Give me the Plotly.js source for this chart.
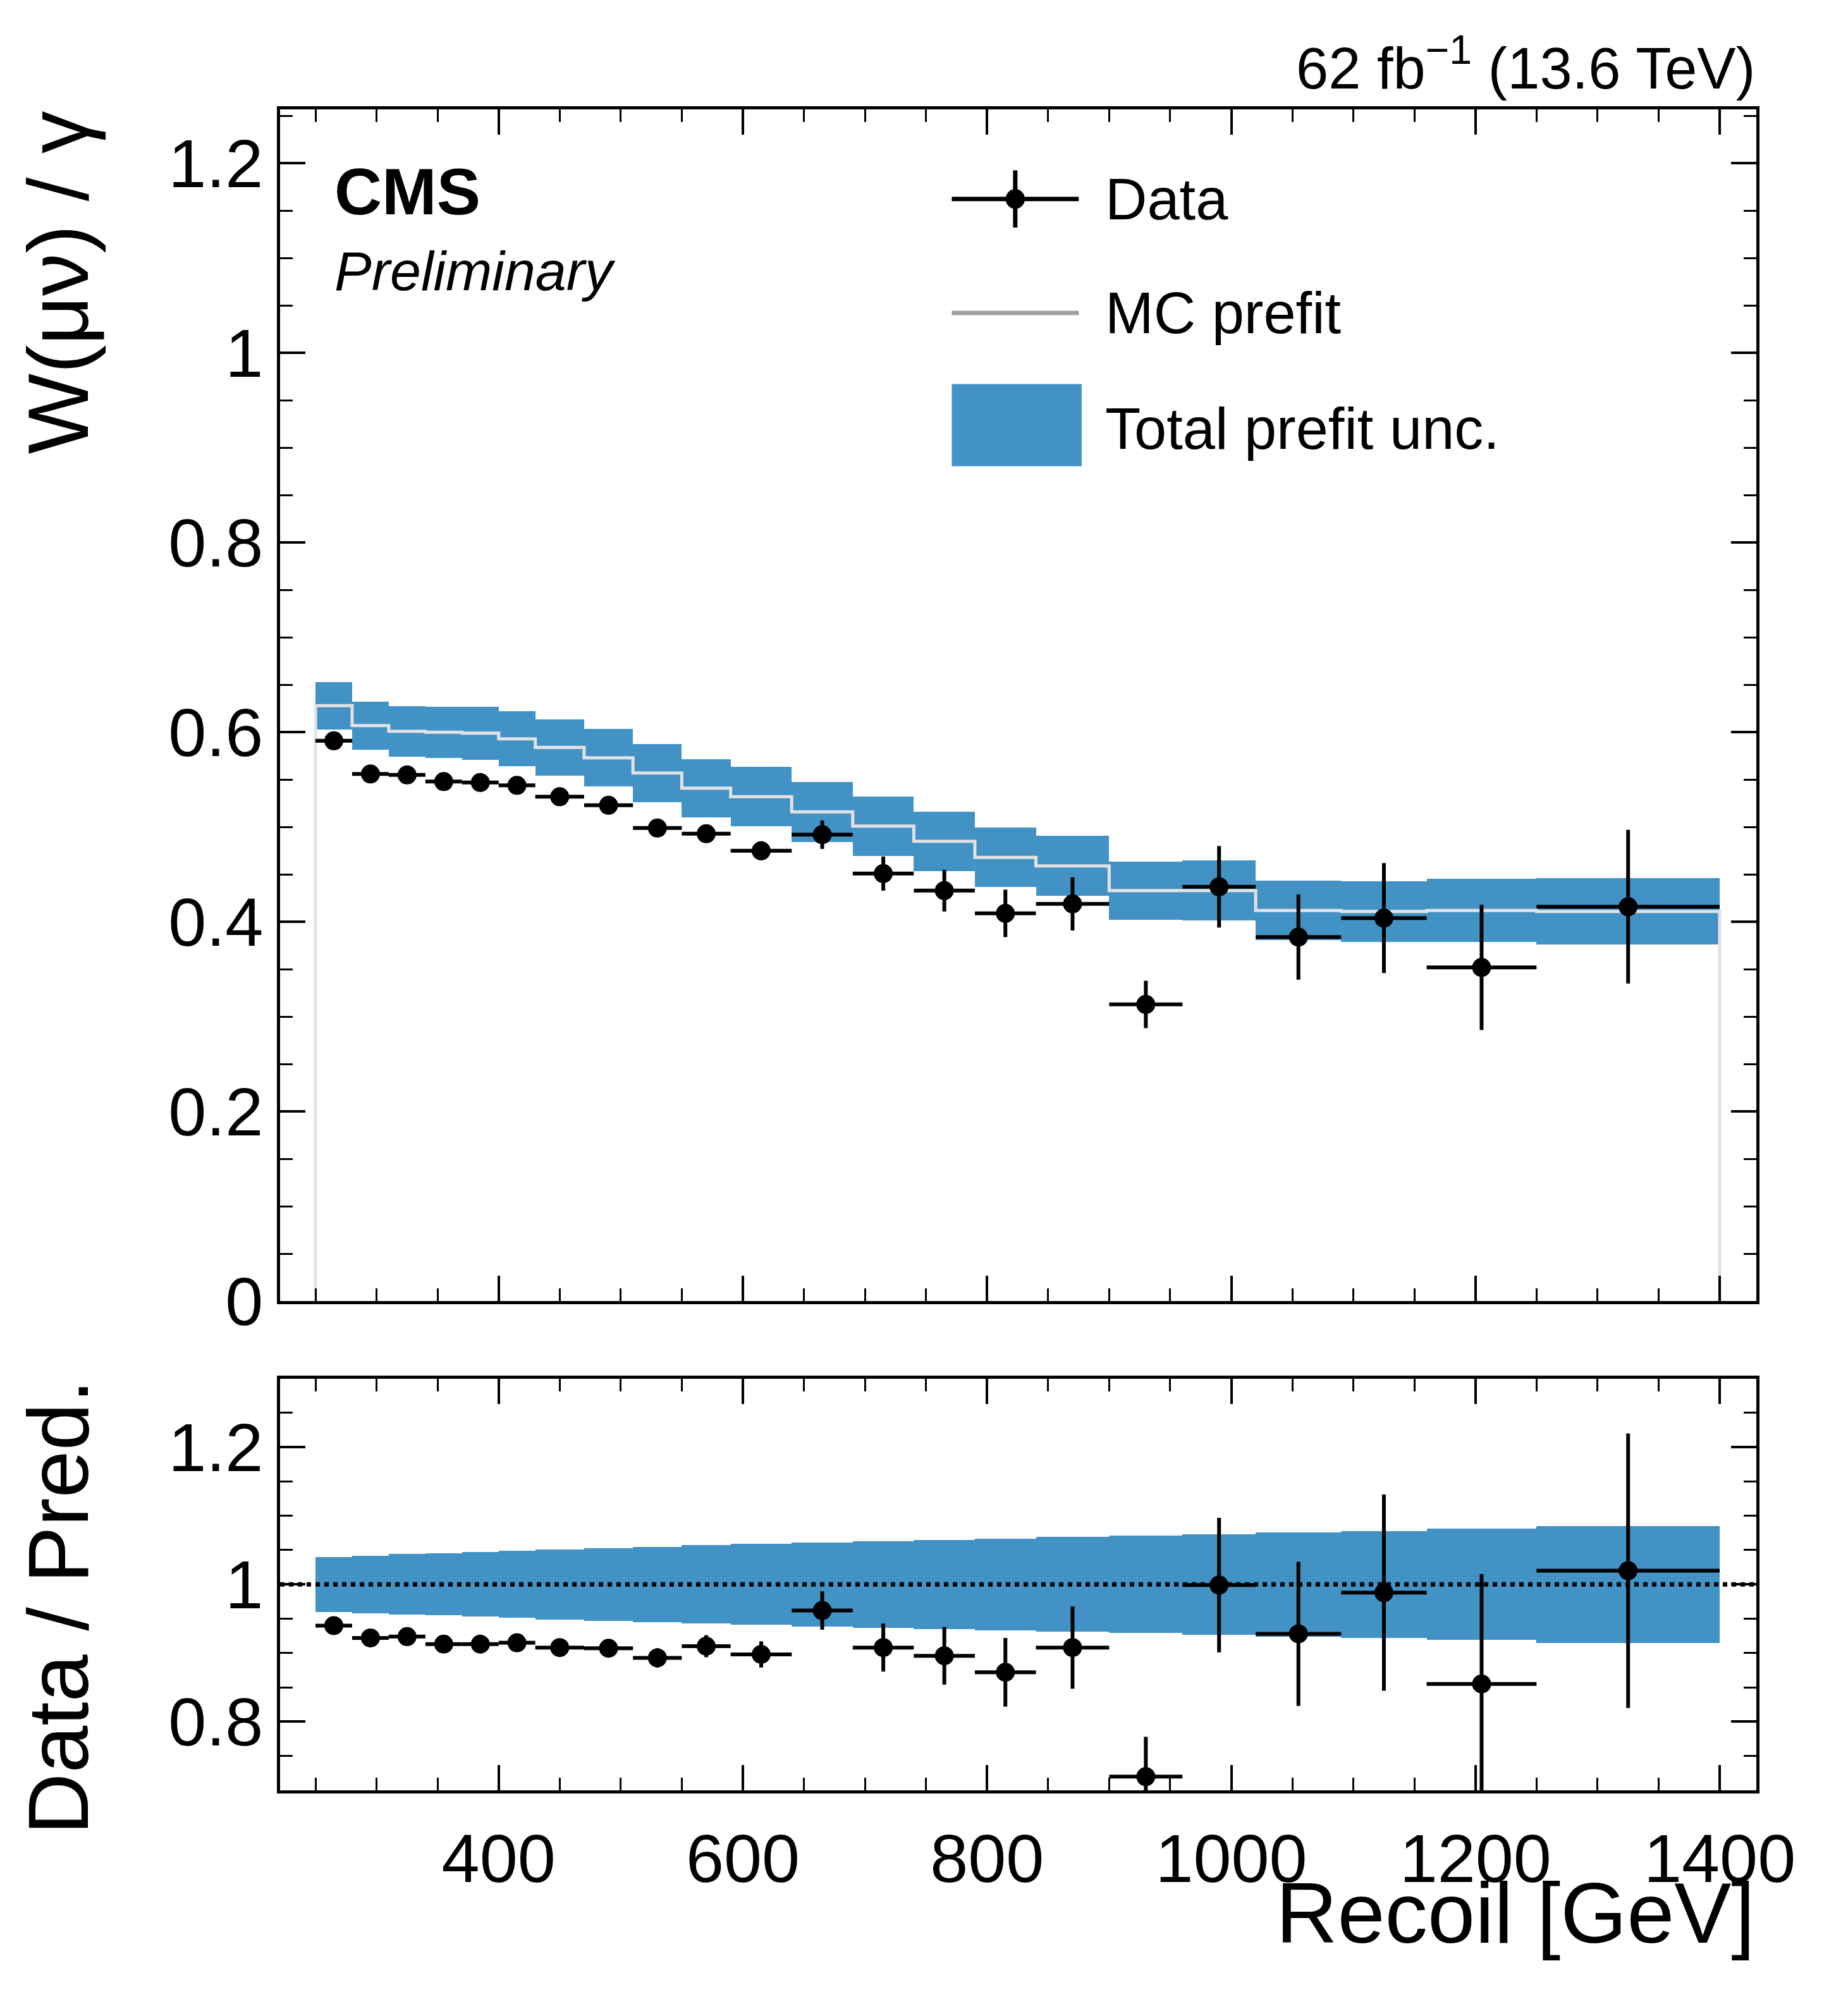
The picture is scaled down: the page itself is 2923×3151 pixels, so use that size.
<!DOCTYPE html>
<html><head><meta charset="utf-8">
<script src="https://cdn.plot.ly/plotly-3.0.1.min.js"></script>
<style>body{margin:0;background:#fff}</style>
</head><body><div id="c" style="width:2923px;height:3151px"></div>
<script>
const edges=[250,280,310,340,370,400,430,470,510,550,590,640,690,740,790,840,900,960,1020,1090,1160,1250,1400];
const dataVal=[0.591,0.556,0.555,0.548,0.547,0.544,0.532,0.523,0.499,0.493,0.475,0.492,0.451,0.433,0.409,0.419,0.313,0.437,0.384,0.404,0.352,0.416];
const dataErr=[0.006,0.006,0.006,0.006,0.006,0.007,0.007,0.008,0.008,0.009,0.010,0.015,0.018,0.022,0.025,0.028,0.025,0.043,0.045,0.058,0.066,0.081];
const mcVal=[0.628,0.607,0.601,0.600,0.599,0.593,0.584,0.573,0.557,0.541,0.532,0.516,0.501,0.485,0.468,0.459,0.433,0.433,0.412,0.411,0.412,0.411];
const relUnc=[0.040,0.042,0.044,0.045,0.047,0.049,0.051,0.053,0.055,0.057,0.059,0.061,0.063,0.065,0.067,0.069,0.071,0.073,0.076,0.078,0.081,0.085];
const ratioVal=[0.940,0.922,0.924,0.913,0.913,0.915,0.908,0.907,0.893,0.910,0.898,0.962,0.908,0.896,0.872,0.908,0.720,0.999,0.928,0.988,0.855,1.020];
const ratioErr=[0.008,0.010,0.010,0.010,0.010,0.011,0.012,0.013,0.014,0.016,0.019,0.028,0.035,0.042,0.050,0.060,0.058,0.098,0.105,0.143,0.160,0.200];

const n=dataVal.length;
const centers=[],halfW=[],widths=[];
for(let i=0;i<n;i++){centers.push((edges[i]+edges[i+1])/2);halfW.push((edges[i+1]-edges[i])/2);widths.push(edges[i+1]-edges[i]);}
const mc=mcVal;
const blue='#4292c6';
const traces=[];
traces.push({type:'bar',x:centers,width:widths,base:mc.map((m,i)=>m*(1-relUnc[i])),y:mc.map((m,i)=>2*m*relUnc[i]),marker:{color:blue,line:{width:0}},xaxis:'x',yaxis:'y',hoverinfo:'skip'});
const sx=[edges[0]],sy=[0];
for(let i=0;i<n;i++){sx.push(edges[i]);sy.push(mc[i]);}
sx.push(edges[n]);sy.push(mc[n-1]);sx.push(edges[n]);sy.push(0);
traces.push({type:'scatter',mode:'lines',x:sx,y:sy,line:{shape:'hv',color:'#e2e2e2',width:5},xaxis:'x',yaxis:'y'});
traces.push({type:'scatter',mode:'markers',x:centers,y:dataVal,marker:{color:'#000',size:30},
 error_x:{type:'data',array:halfW,color:'#000',thickness:6,width:0},error_y:{type:'data',array:dataErr,color:'#000',thickness:6,width:0},xaxis:'x',yaxis:'y'});
traces.push({type:'bar',x:centers,width:widths,base:relUnc.map(r=>1-r),y:relUnc.map(r=>2*r),marker:{color:blue,line:{width:0}},xaxis:'x2',yaxis:'y2'});
traces.push({type:'scatter',mode:'markers',x:centers,y:ratioVal,marker:{color:'#000',size:30},
 error_x:{type:'data',array:halfW,color:'#000',thickness:6,width:0},error_y:{type:'data',array:ratioErr,color:'#000',thickness:6,width:0},xaxis:'x2',yaxis:'y2'});

const F='Liberation Sans, Arial, sans-serif';
const ax={showline:true,mirror:'allticks',linecolor:'#000',linewidth:5,ticks:'inside',ticklen:40,tickwidth:4,tickcolor:'#000',
 showgrid:false,zeroline:false,tickfont:{family:F,size:108,color:'#000'},
 minor:{ticks:'inside',ticklen:20,tickwidth:3,tickcolor:'#000'}};
const layout={width:2923,height:3151,margin:{l:443,r:117+28,t:173,b:303+16},paper_bgcolor:'#fff',plot_bgcolor:'#fff',showlegend:false,barmode:'overlay',bargap:0,
 xaxis:Object.assign({},ax,{domain:[0,1],range:[221,1430],anchor:'y',showticklabels:false,dtick:200,tick0:0,minor:Object.assign({},ax.minor,{dtick:50})}),
 yaxis:Object.assign({},ax,{domain:[0.291,1],range:[0,1.257],dtick:0.2,tick0:0,anchor:'x',tickformat:'~g',minor:Object.assign({},ax.minor,{dtick:0.05})}),
 xaxis2:Object.assign({},ax,{domain:[0,1],range:[221,1430],anchor:'y2',dtick:200,tick0:0,ticklabelstandoff:10,minor:Object.assign({},ax.minor,{dtick:50})}),
 yaxis2:Object.assign({},ax,{domain:[0,0.245],range:[0.70,1.30],dtick:0.2,tick0:0,anchor:'x2',tickformat:'~g',minor:Object.assign({},ax.minor,{dtick:0.05})}),
 shapes:[
  {type:'line',xref:'x2',yref:'y2',x0:221,x1:1430,y0:1,y1:1,line:{color:'#000',width:7,dash:'dot'}},
  {type:'line',xref:'paper',yref:'paper',x0:0.455,x1:0.541,y0:0.9467,y1:0.9467,line:{color:'#000',width:7}},
  {type:'line',xref:'paper',yref:'paper',x0:0.498,x1:0.498,y0:0.9297,y1:0.9637,line:{color:'#000',width:7}},
  {type:'circle',xref:'paper',yref:'paper',x0:0.4915,x1:0.5045,y0:0.9408,y1:0.9526,fillcolor:'#000',line:{width:0}},
  {type:'line',xref:'paper',yref:'paper',x0:0.455,x1:0.541,y0:0.8789,y1:0.8789,line:{color:'#a0a0a0',width:7}},
  {type:'rect',xref:'paper',yref:'paper',x0:0.455,x1:0.543,y0:0.7877,y1:0.8366,fillcolor:blue,line:{width:0}}
 ],
 annotations:[
  {xref:'paper',yref:'paper',x:1,y:1.027,xanchor:'right',yanchor:'middle',showarrow:false,text:'62 fb<sup>−1</sup> (13.6 TeV)',font:{family:F,size:92,color:'#000'}},
  {xref:'paper',yref:'paper',x:0.036,y:0.951,xanchor:'left',yanchor:'middle',showarrow:false,text:'<b>CMS</b>',font:{family:F,size:104,color:'#000'}},
  {xref:'paper',yref:'paper',x:0.036,y:0.904,xanchor:'left',yanchor:'middle',showarrow:false,text:'<i>Preliminary</i>',font:{family:F,size:88,color:'#000'}},
  {xref:'paper',yref:'paper',x:0.558,y:0.9467,xanchor:'left',yanchor:'middle',showarrow:false,text:'Data',font:{family:F,size:92,color:'#000'}},
  {xref:'paper',yref:'paper',x:0.558,y:0.8789,xanchor:'left',yanchor:'middle',showarrow:false,text:'MC prefit',font:{family:F,size:92,color:'#000'}},
  {xref:'paper',yref:'paper',x:0.558,y:0.810,xanchor:'left',yanchor:'middle',showarrow:false,text:'Total prefit unc.',font:{family:F,size:92,color:'#000'}},
  {xref:'paper',yref:'paper',x:-0.15,y:1,xanchor:'center',yanchor:'top',textangle:-90,showarrow:false,text:'W(μν) / γ',font:{family:F,size:135,color:'#000'}},
  {xref:'paper',yref:'paper',x:-0.15,y:0.245,xanchor:'center',yanchor:'top',textangle:-90,showarrow:false,text:'Data / Pred.',font:{family:F,size:135,color:'#000'}},
  {xref:'paper',yref:'paper',x:1,y:-0.073,xanchor:'right',yanchor:'middle',showarrow:false,text:'Recoil [GeV]',font:{family:F,size:135,color:'#000'}}
 ]};
Plotly.newPlot('c',traces,layout,{staticPlot:true});
</script></body></html>
